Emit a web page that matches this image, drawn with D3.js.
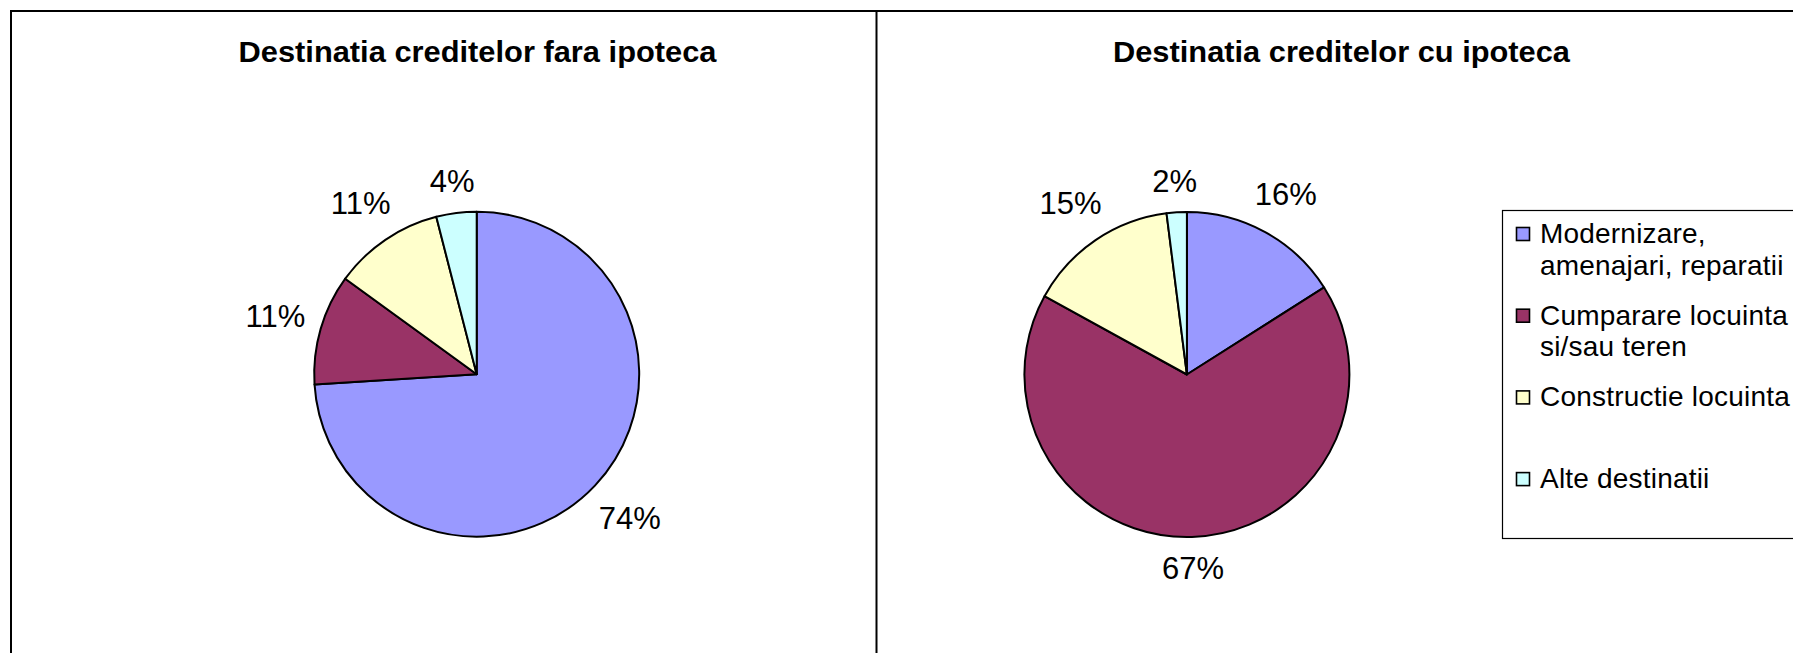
<!DOCTYPE html>
<html>
<head>
<meta charset="utf-8">
<script src="https://cdn.jsdelivr.net/npm/d3@7"></script>
<style>
  html, body { margin: 0; padding: 0; background: #fff; overflow: hidden; }
  svg { display: block; font-family: Arial, "Liberation Sans", sans-serif; }
</style>
</head>
<body>
<svg id="chart" width="1793" height="653"></svg>
<script>
// ---- data ----
const categories = [
  "Modernizare, amenajari, reparatii",
  "Cumparare locuinta si/sau teren",
  "Constructie locuinta",
  "Alte destinatii"
];
const legendLines = [
  ["Modernizare,", "amenajari, reparatii"],
  ["Cumparare locuinta", "si/sau teren"],
  ["Constructie locuinta"],
  ["Alte destinatii"]
];
const valuesFaraIpoteca = [74, 11, 11, 4];
const valuesCuIpoteca = [16, 67, 15, 2];
const chartTitles = ["Destinatia creditelor fara ipoteca", "Destinatia creditelor cu ipoteca"];
const colors = ["#9999FF", "#993366", "#FFFFCC", "#CCFFFF"];

// ---- drawing ----
const svg = d3.select("#chart");
const W = 1793, H = 653;

// outer frame (extends beyond right/bottom edges) and divider
svg.append("rect").attr("x", 11).attr("y", 11).attr("width", W + 20).attr("height", H + 20)
  .attr("fill", "none").attr("stroke", "#000").attr("stroke-width", 2);
svg.append("line").attr("x1", 876.5).attr("x2", 876.5).attr("y1", 11).attr("y2", H + 5)
  .attr("stroke", "#000").attr("stroke-width", 2);

const color = d3.scaleOrdinal().domain(categories).range(colors);
const pie = d3.pie().sort(null).value(d => d.v);
const R = 162.5;
const arc = d3.arc().innerRadius(0).outerRadius(R);

const panels = [
  { values: valuesFaraIpoteca, title: chartTitles[0], cx: 476.7, cy: 374.2, tx: 477.5, tw: 478 },
  { values: valuesCuIpoteca, title: chartTitles[1], cx: 1186.9, cy: 374.5, tx: 1341.5, tw: 457 }
];

panels.forEach(p => {
  svg.append("text")
    .attr("x", p.tx).attr("y", 61.5)
    .attr("text-anchor", "middle")
    .attr("font-size", 30).attr("font-weight", "bold")
    .attr("textLength", p.tw).attr("lengthAdjust", "spacingAndGlyphs")
    .text(p.title);

  const data = p.values.map((v, i) => ({ c: categories[i], v }));
  const arcs = pie(data);
  const total = d3.sum(p.values);
  const g = svg.append("g").attr("transform", `translate(${p.cx},${p.cy})`);
  g.selectAll("path").data(arcs).join("path")
    .attr("d", arc)
    .attr("fill", d => color(d.data.c))
    .attr("stroke", "#000").attr("stroke-width", 2).attr("stroke-linejoin", "round");

  arcs.forEach(a => {
    const mid = (a.startAngle + a.endAngle) / 2;
    const dx = Math.sin(mid), dy = -Math.cos(mid);
    const t = g.append("text")
      .attr("text-anchor", "middle")
      .attr("font-size", 31)
      .attr("fill", "#000")
      .text(Math.round(a.data.v / total * 100) + "%");
    const w = t.node().getComputedTextLength();
    const dist = R + 14 + (w / 2) * Math.abs(dx) + 16 * Math.abs(dy);
    t.attr("x", dx * dist).attr("y", dy * dist + 11);
  });
});

// legend
const lg = svg.append("g");
lg.append("rect").attr("x", 1502.5).attr("y", 210.5).attr("width", 400).attr("height", 328)
  .attr("fill", "#fff").attr("stroke", "#000").attr("stroke-width", 1.2);
categories.forEach((c, i) => {
  const base = 243 + i * 81.7;
  lg.append("rect").attr("x", 1516.5).attr("y", base - 15.5).attr("width", 13).attr("height", 13)
    .attr("fill", color(c)).attr("stroke", "#000").attr("stroke-width", 1.6);
  legendLines[i].forEach((line, j) => {
    lg.append("text").attr("x", 1540).attr("y", base + j * 31.5)
      .attr("font-size", 28).attr("fill", "#000").attr("letter-spacing", 0.2)
      .text(line);
  });
});
</script>
</body>
</html>
